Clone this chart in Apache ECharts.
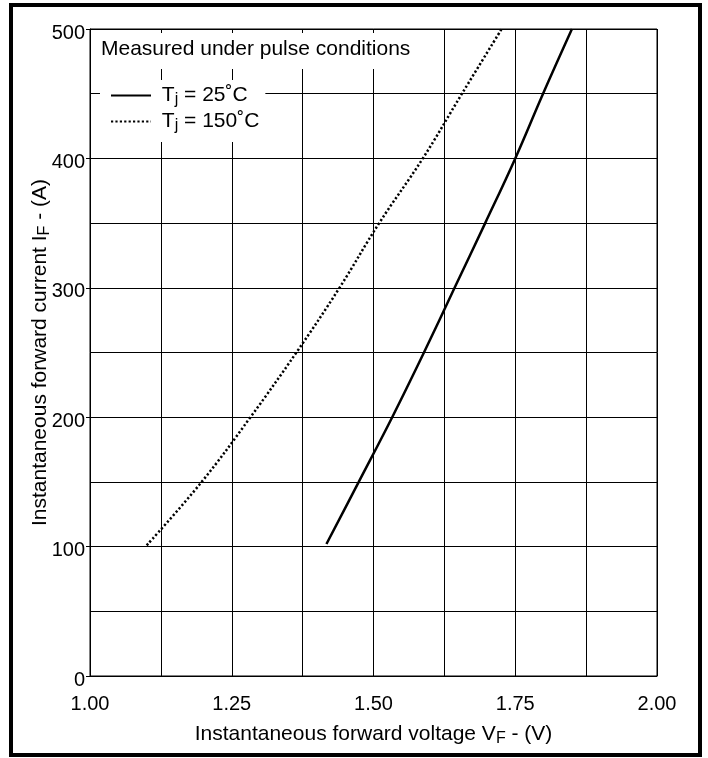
<!DOCTYPE html>
<html>
<head>
<meta charset="utf-8">
<script src="https://cdn.jsdelivr.net/npm/echarts@6/dist/echarts.min.js"></script>
<style>
  html, body { margin: 0; padding: 0; background: #fff; }
  #chart { width: 708px; height: 758px; }
</style>
</head>
<body>
<div id="chart"></div>
<script>
// forward characteristic
const voltage25 = [1.417, 1.474, 1.533, 1.589, 1.643, 1.697, 1.750, 1.799, 1.850];
const current25 = [102, 150, 200, 250, 300, 350, 400, 450, 500];
const voltage150 = [1.100, 1.197, 1.283, 1.364, 1.440, 1.510, 1.587, 1.656, 1.726];
const current150 = [101, 150, 200, 250, 300, 350, 400, 450, 500];
const seriesNames = ['Tj = 25˚C', 'Tj = 150˚C'];
const legendLabels = {
  'Tj = 25˚C': '{t| T}{s|j}{t| = 25˚C}',
  'Tj = 150˚C': '{t| T}{s|j}{t| = 150˚C}'
};

const font = 'Liberation Sans, Arial, Helvetica, sans-serif';
const chart = echarts.init(document.getElementById('chart'));

function pairs(xs, ys) {
  return xs.map((x, i) => [x, ys[i]]);
}

const subRich = {
  t: { fontSize: 21, lineHeight: 25, color: '#000', fontFamily: font },
  s: { fontSize: 16, lineHeight: 16, padding: [9, 0, 0, 0], color: '#000', fontFamily: font }
};

chart.setOption({
  backgroundColor: '#fff',
  animation: false,
  grid: {
    left: 90, right: 51, top: 29, bottom: 82,
    show: true, borderColor: '#000', borderWidth: 1
  },
  title: {
    text: 'Measured under pulse conditions',
    left: 96, top: 33,
    padding: [6, 8, 9, 5],
    backgroundColor: '#fff',
    textStyle: { fontSize: 21, fontWeight: 'normal', color: '#000', fontFamily: font }
  },
  legend: {
    data: seriesNames,
    orient: 'vertical',
    left: 100, top: 80,
    padding: [3, 6, 8, 10],
    itemGap: 1,
    itemWidth: 40,
    itemHeight: 14,
    backgroundColor: '#fff',
    itemStyle: { opacity: 0 },
    formatter: name => legendLabels[name],
    textStyle: { rich: subRich }
  },
  xAxis: {
    type: 'value',
    min: 1, max: 2, interval: 0.25,
    name: '{t|Instantaneous forward voltage V}{s|F}{t| - (V)}',
    nameLocation: 'middle', nameGap: 46, nameMoveOverlap: false,
    nameTextStyle: { rich: subRich },
    axisLine: { lineStyle: { color: '#000', width: 1 } },
    axisTick: { show: false },
    axisLabel: {
      margin: 18, color: '#000', fontSize: 20, fontFamily: font,
      formatter: v => v.toFixed(2)
    },
    splitLine: { show: true, lineStyle: { color: '#000', width: 1 } },
    minorTick: { show: false, splitNumber: 2 },
    minorSplitLine: { show: true, lineStyle: { color: '#000', width: 1 } }
  },
  yAxis: {
    type: 'value',
    min: 0, max: 500, interval: 100,
    name: '{t|Instantaneous forward current I}{s|F}{t| - (A)}',
    nameLocation: 'middle', nameGap: 37, nameRotate: 90, nameMoveOverlap: false,
    nameTextStyle: { rich: subRich },
    axisLine: { show: true, lineStyle: { color: '#000', width: 1 } },
    axisTick: { show: true, length: 4, lineStyle: { color: '#000' } },
    axisLabel: {
      margin: 5, color: '#000', fontSize: 20, fontFamily: font,
      verticalAlign: 'top', lineHeight: 8
    },
    splitLine: { show: true, lineStyle: { color: '#000', width: 1 } },
    minorTick: { show: false, splitNumber: 2 },
    minorSplitLine: { show: true, lineStyle: { color: '#000', width: 1 } }
  },
  series: [
    {
      name: seriesNames[0],
      type: 'line',
      data: pairs(voltage25, current25),
      smooth: 0.4,
      symbol: 'none',
      lineStyle: { color: '#000', width: 2.5 },
      itemStyle: { color: '#000' }
    },
    {
      name: seriesNames[1],
      type: 'line',
      data: pairs(voltage150, current150),
      smooth: 0.4,
      symbol: 'none',
      lineStyle: { color: '#000', width: 2.5, type: [2.2, 2.2], cap: 'butt' },
      itemStyle: { color: '#000' }
    }
  ],
  graphic: [
    {
      type: 'rect',
      silent: true,
      shape: { x: 11, y: 5, width: 689, height: 750 },
      style: { fill: 'none', stroke: '#000', lineWidth: 4 }
    }
  ]
});
</script>
</body>
</html>
